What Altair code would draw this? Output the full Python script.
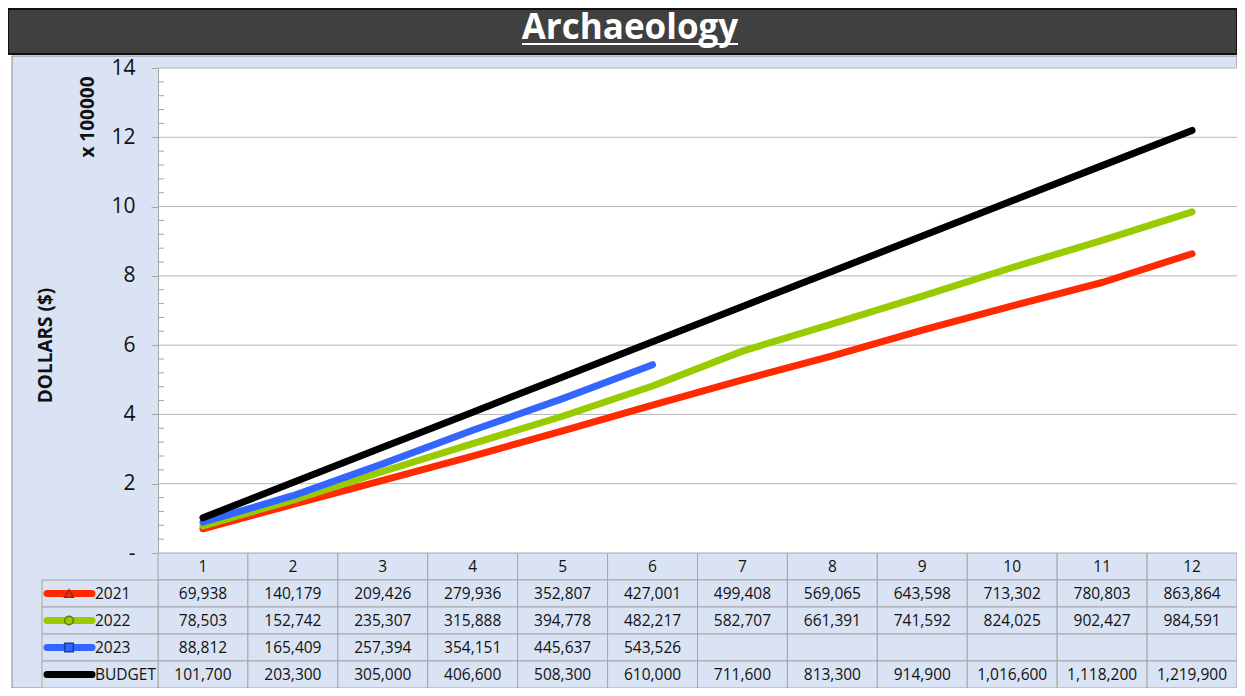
import altair as alt
import pandas as pd

# ---------------- data ----------------
months = list(range(1, 13))
series_names = ["2021", "2022", "2023", "BUDGET"]
v2021 = [69938, 140179, 209426, 279936, 352807, 427001, 499408, 569065, 643598, 713302, 780803, 863864]
v2022 = [78503, 152742, 235307, 315888, 394778, 482217, 582707, 661391, 741592, 824025, 902427, 984591]
v2023 = [88812, 165409, 257394, 354151, 445637, 543526]
budget = [101700, 203300, 305000, 406600, 508300, 610000, 711600, 813300, 914900, 1016600, 1118200, 1219900]
series_values = [v2021, v2022, v2023, budget]
series_colors = ["#FF2A00", "#99CC00", "#3366FF", "#000000"]
marker_shapes = ["triangle-up", "circle", "square"]
marker_strokes = ["#9C2A10", "#5E7A10", "#1F3D99"]
y_ticks = [0, 2, 4, 6, 8, 10, 12, 14]
title_text = "Archaeology"
y_title = "DOLLARS ($)"
unit_note = "x 100000"
scale_div = 100000

# ---------------- layout ----------------
W, H = 1079, 485
ROW = 27
rows = ["header"] + series_names
FONT = "Open Sans"
BG = "#DAE3F3"
BORDER = "#A6A6A6"
TXT = "#111111"

line_df = pd.DataFrame([
    {"series": n, "month": m, "value": v / scale_div}
    for n, vals in zip(series_names, series_values)
    for m, v in zip(months, vals)
])

cells = [{"row": "header", "month": m, "label": str(m)} for m in months]
for n, vals in zip(series_names, series_values):
    for i, m in enumerate(months):
        cells.append({"row": n, "month": m, "label": f"{vals[i]:,}" if i < len(vals) else ""})
cell_df = pd.DataFrame(cells)

legend_df = pd.DataFrame({"series": series_names})
marker_df = pd.DataFrame({"series": series_names[:3], "shape": marker_shapes,
                          "stroke": marker_strokes})
one = pd.DataFrame({"a": [0]})

xscale = alt.Scale(domain=[0.5, 12.5], nice=False, zero=False)
yscale = alt.Scale(domain=[0, 14], nice=False)
rowscale = alt.Scale(domain=rows, range=[H, H + ROW * len(rows)], paddingInner=0, paddingOuter=0)
color_scale = alt.Scale(domain=series_names, range=series_colors)

# decorations
title_bar = alt.Chart(one).mark_rect(fill="#404040", stroke="#111111", strokeWidth=2).encode(
    x=alt.value(-150), x2=alt.value(W), y=alt.value(-59), y2=alt.value(-14))
title = alt.Chart(one).mark_text(text=title_text, font=FONT, fontSize=35, fontWeight="bold",
                                 color="white", align="center", baseline="alphabetic").encode(
    x=alt.value(472), y=alt.value(-29))
underline = alt.Chart(one).mark_rule(color="white", strokeWidth=2).encode(
    x=alt.value(472 - 108), x2=alt.value(472 + 108), y=alt.value(-24))
blue_bg = alt.Chart(one).mark_rect(fill=BG, stroke="#8C8C8C", strokeWidth=1).encode(
    x=alt.value(-146), x2=alt.value(W), y=alt.value(-12), y2=alt.value(H + ROW * len(rows)))
plot_bg = alt.Chart(one).mark_rect(fill="white").encode(
    x=alt.value(0), x2=alt.value(W), y=alt.value(0), y2=alt.value(H))

grid = alt.Chart(pd.DataFrame({"v": y_ticks[1:]})).mark_rule(color="#B5B5B5", strokeWidth=1).encode(
    y=alt.Y("v:Q", scale=yscale, axis=None), x=alt.value(0), x2=alt.value(W))
minor_vals = [round(i * 0.4, 1) for i in range(1, 35) if i % 5 != 0]
minor = alt.Chart(pd.DataFrame({"v": minor_vals})).mark_rule(color="#A6A6A6", strokeWidth=1).encode(
    y=alt.Y("v:Q", scale=yscale, axis=None), x=alt.value(0), x2=alt.value(6))

# table
cell_rects = alt.Chart(cell_df).transform_calculate(
    x0="datum.month - 0.5", x1="datum.month + 0.5"
).mark_rect(fill=BG, stroke=BORDER, strokeWidth=1).encode(
    x=alt.X("x0:Q", scale=xscale, axis=None), x2="x1:Q",
    y=alt.Y("row:N", scale=rowscale, axis=None))
cell_text = alt.Chart(cell_df).mark_text(font=FONT, fontSize=15.5, color=TXT,
                                         baseline="middle", align="center").encode(
    x=alt.X("month:Q", scale=xscale, axis=None),
    y=alt.Y("row:N", scale=rowscale, axis=None),
    text="label:N")
legend_cells = alt.Chart(legend_df).mark_rect(fill=BG, stroke=BORDER, strokeWidth=1).encode(
    x=alt.value(-116), x2=alt.value(0),
    y=alt.Y("series:N", scale=rowscale, axis=None))
legend_lines = alt.Chart(legend_df).mark_rule(strokeWidth=7, strokeCap="round").encode(
    x=alt.value(-111), x2=alt.value(-66),
    y=alt.Y("series:N", scale=rowscale, axis=None),
    color=alt.Color("series:N", scale=color_scale, legend=None))
legend_markers = alt.Chart(marker_df).mark_point(filled=False, size=75, strokeWidth=1.5, opacity=1).encode(
    x=alt.value(-89),
    y=alt.Y("series:N", scale=rowscale, axis=None),
    shape=alt.Shape("shape:N", scale=None),
    stroke=alt.Stroke("stroke:N", scale=None),
    fill=alt.Color("series:N", scale=color_scale, legend=None))
legend_text = alt.Chart(legend_df).mark_text(font=FONT, fontSize=15.5, color=TXT,
                                             align="left", baseline="middle").encode(
    x=alt.value(-63),
    y=alt.Y("series:N", scale=rowscale, axis=None),
    text="series:N")

unit = alt.Chart(one).mark_text(text=unit_note, font=FONT, fontSize=19, fontWeight="bold",
                                angle=270, align="center", baseline="middle", color=TXT).encode(
    x=alt.value(-70), y=alt.value(49))

lines = alt.Chart(line_df).mark_line(strokeWidth=7, strokeCap="round", strokeJoin="round").encode(
    x=alt.X("month:Q", scale=xscale, axis=None),
    y=alt.Y("value:Q", scale=yscale,
            axis=alt.Axis(values=y_ticks, labelExpr="datum.value == 0 ? '-' : datum.label",
                          grid=False, domainColor="#A6A6A6", tickColor="#A6A6A6", tickSize=7,
                          labelPadding=16, labelFontSize=21, labelFont=FONT, labelColor=TXT,
                          title=y_title, titleFont=FONT, titleFontSize=19, titleFontWeight="bold",
                          titleColor=TXT, titleX=-113, titleY=277, titleAngle=270,
                          titleAlign="center", titleBaseline="middle", zindex=1)),
    color=alt.Color("series:N", scale=color_scale, legend=None),
    order=alt.Order("month:Q"))

chart = alt.layer(
    title_bar, title, underline, blue_bg, plot_bg, grid, minor,
    cell_rects, legend_cells, cell_text, legend_lines, legend_markers, legend_text,
    unit, lines
).resolve_scale(y="independent").properties(
    width=W, height=H,
    autosize=alt.AutoSizeParams(type="none"),
    padding={"left": 150, "top": 60, "right": 0, "bottom": ROW * len(rows)},
    background="white",
).configure_view(stroke=None)

chart.save("out.html", embed_options={"renderer": "svg", "actions": False})
